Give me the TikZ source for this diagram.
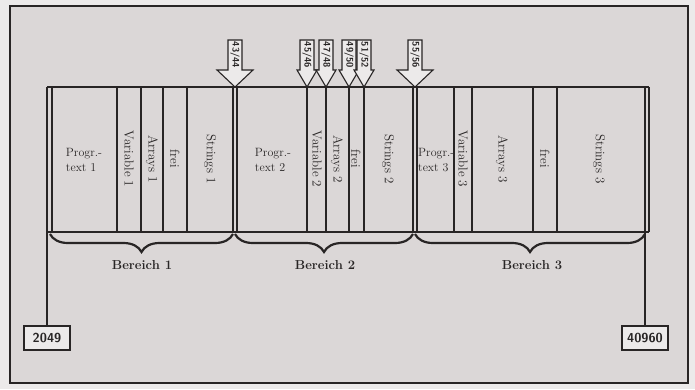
\documentclass[tikz,border=0pt]{standalone}
\usepackage{tikz}
\usetikzlibrary{calc, decorations.pathreplacing}

\definecolor{paper}{RGB}{236,234,234}
\definecolor{sheet}{RGB}{219,215,215}
\definecolor{ink}{RGB}{40,37,37}
\definecolor{pale}{RGB}{236,234,234}

\tikzset{
    framebox/.style={draw=ink, line width=1.8pt, fill=sheet},
    memline/.style={draw=ink, line width=1.1pt},
    colname/.style={font=\fontsize{13}{15}\selectfont, text=ink, rotate=-90, inner sep=0pt},
    progname/.style={font=\fontsize{12}{15}\selectfont, text=ink, align=left, inner sep=0pt},
    areaname/.style={font=\bfseries\fontsize{13}{15}\selectfont, text=ink, inner sep=0pt},
    addrbox/.style={draw=ink, line width=1.8pt, fill=pale, text=ink,
        font=\sffamily\bfseries\fontsize{13}{15}\selectfont,
        minimum width=46pt, minimum height=24pt, inner sep=1pt},
    ptrtext/.style={font=\sffamily\bfseries\fontsize{9.5}{11}\selectfont, text=ink, rotate=-90, inner sep=0pt},
    bracket/.style={decorate, decoration={brace, amplitude=18pt}, draw=ink, line width=2.2pt},
}

% pointer arrow: name, x of tip, half width of head, label
\newcommand{\PointerArrow}[4]{%
    \draw[memline, fill=pale, line join=miter]
        (#2-7,40) -- (#2+7,40) -- (#2+7,70) -- (#2+#3,70) -- (#2,87)
        -- (#2-#3,70) -- (#2-7,70) -- cycle;
    \node[ptrtext] (#1) at (#2,55) {#4};
}

\begin{document}
\begin{tikzpicture}[x=1pt, y=-1pt]
        % Sheet and frame, in pixels of the reference
        \fill[paper] (0,0) rectangle (695,389);
        \draw[framebox] (10,6) rectangle (688,383);

        % Explicit Coordinates: strip from x=47 to x=649, top 87, bottom 232
        \coordinate (L0) at (47,87);       % outer left edge, down to 2049
        \coordinate (R0) at (645,87);      % inner right edge, down to 40960

        % Address boxes
        \node[addrbox] (lo) at (47,338) {2049};
        \node[addrbox] (hi) at (645,338) {40960};
        \draw[memline] (L0) -- (lo);
        \draw[memline] (R0) -- (hi);

        % Memory strip
        \draw[memline] (47,87) -- (649,87);
        \draw[memline] (47,232) -- (649,232);
        \foreach \x in {52,117,141,163,187,233,237,307,326,349,364,413,417,454,472,533,557,649}
            \draw[memline] (\x,87) -- (\x,232);

        % Pointers
        \PointerArrow{p43}{235}{18}{43/44}
        \PointerArrow{p45}{307}{10}{45/46}
        \PointerArrow{p47}{326}{10}{47/48}
        \PointerArrow{p49}{349}{10}{49/50}
        \PointerArrow{p51}{364}{10}{51/52}
        \PointerArrow{p55}{415}{18}{55/56}

        % Program texts
        \node[progname] (prog1) at (84,160) {Progr.-\\text 1};
        \node[progname] (prog2) at (273,160) {Progr.-\\text 2};
        \begin{scope}
            \clip (418,88) rectangle (453,231);
            \node[progname, anchor=west] (prog3) at (418,160) {Progr.-\\text 3};
        \end{scope}

        % Column names
        \foreach \x/\n/\t in {129/var1/Variable 1, 152/arr1/Arrays 1, 175/frei1/frei, 210/str1/Strings 1,
                              317/var2/Variable 2, 337/arr2/Arrays 2, 356/frei2/frei, 388/str2/Strings 2,
                              463/var3/Variable 3, 502/arr3/Arrays 3, 545/frei3/frei, 599/str3/Strings 3}
            \node[colname] (\n) at (\x,159) {\t};

        % Areas
        \draw[bracket] (233,234) -- (50,234);
        \draw[bracket] (413,234) -- (235,234);
        \draw[bracket] (645,234) -- (415,234);
        \node[areaname] (b1) at (142,265) {Bereich 1};
        \node[areaname] (b2) at (325,265) {Bereich 2};
        \node[areaname] (b3) at (532,265) {Bereich 3};
\end{tikzpicture}
\end{document}
